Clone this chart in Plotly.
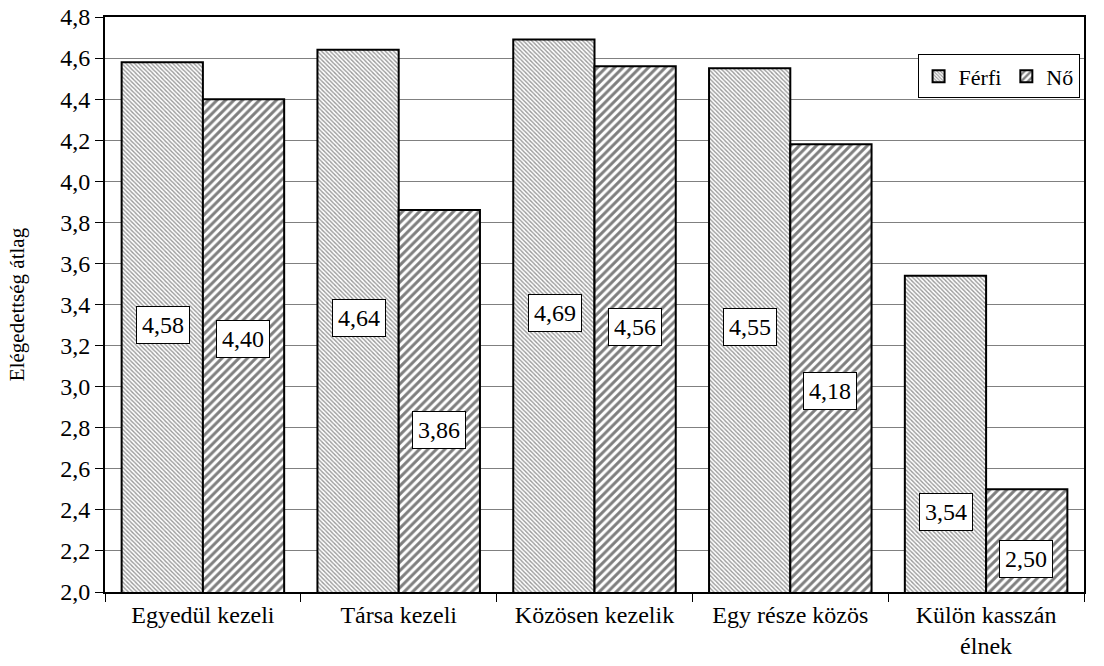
import plotly.graph_objects as go

# categories and mean satisfaction values
categories = ['Egyedül kezeli', 'Társa kezeli', 'Közösen kezelik', 'Egy része közös', 'Külön kasszán<br>élnek']
ferfi = [4.58, 4.64, 4.69, 4.55, 3.54]
no = [4.40, 3.86, 4.56, 4.18, 2.50]

y_ticks = [2.0, 2.2, 2.4, 2.6, 2.8, 3.0, 3.2, 3.4, 3.6, 3.8, 4.0, 4.2, 4.4, 4.6, 4.8]

font_family = 'Liberation Serif, Times New Roman, serif'


def fmt(v):
    return ('%.2f' % v).replace('.', ',')


fig = go.Figure()

fig.add_trace(go.Bar(
    x=categories, y=ferfi, name='Férfi',
    marker=dict(color='white', line=dict(color='black', width=2),
                pattern=dict(shape='\\', size=3, solidity=0.45,
                             fgcolor='#333333', bgcolor='white')),
))
fig.add_trace(go.Bar(
    x=categories, y=no, name='Nő',
    marker=dict(color='white', line=dict(color='black', width=2),
                pattern=dict(shape='/', size=6, solidity=0.5,
                             fgcolor='black', bgcolor='white')),
))

# data label boxes (Excel-style, moved by hand in the original)
label_y_ferfi = [3.30, 3.335, 3.36, 3.29, 2.39]
label_y_no = [3.23, 2.79, 3.29, 2.98, 2.16]

annotations = []
for i, cat in enumerate(categories):
    for vals, ly, shift in ((ferfi, label_y_ferfi, -40), (no, label_y_no, 40)):
        annotations.append(dict(
            x=cat, y=ly[i], xref='x', yref='y', text=fmt(vals[i]), showarrow=False,
            xshift=shift, bgcolor='white', bordercolor='black', borderwidth=1,
            borderpad=5, font=dict(family=font_family, size=24, color='black'),
        ))

fig.update_layout(
    width=1104, height=666,
    margin=dict(l=105, r=20, t=17, b=74, autoexpand=False),
    plot_bgcolor='white', paper_bgcolor='white',
    font=dict(family=font_family, size=24, color='black'),
    barmode='group', bargap=0.17, bargroupgap=0,
    showlegend=True,
    legend=dict(x=0.83, y=0.935, xanchor='left', yanchor='top',
                orientation='h', bgcolor='white', bordercolor='black',
                borderwidth=1, font=dict(size=22, family=font_family),
                itemwidth=30, tracegroupgap=0),
    annotations=annotations,
    xaxis=dict(
        tickson='boundaries', ticks='outside', ticklen=8, tickcolor='black',
        showline=True, linecolor='black', linewidth=2, mirror=True,
        showgrid=False, tickfont=dict(size=24, family=font_family),
        automargin=False,
    ),
    yaxis=dict(
        range=[2.0, 4.8], tickvals=y_ticks, ticktext=[fmt(v)[:-1] for v in y_ticks],
        ticks='outside', ticklen=8, tickcolor='black',
        showline=True, linecolor='black', linewidth=2, mirror=True,
        showgrid=True, gridcolor='#808080', gridwidth=1,
        tickfont=dict(size=24, family=font_family), automargin=False,
        title=dict(text='Elégedettség átlag', font=dict(size=21, family=font_family), standoff=30),
    ),
)

fig.write_html('out.html', config={'displayModeBar': False},
               post_script="document.body.style.margin='0';")
